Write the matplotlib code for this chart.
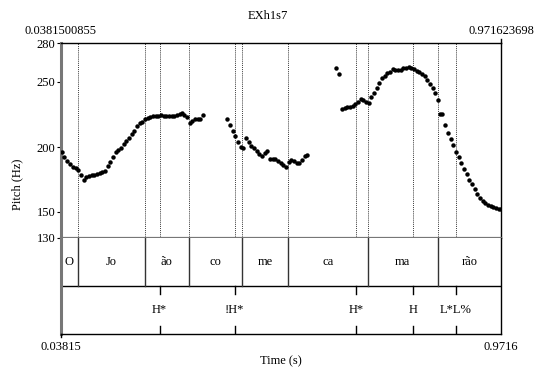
import matplotlib.pyplot as plt
from matplotlib.lines import Line2D

plt.rcParams['font.family'] = ['Liberation Serif', 'DejaVu Serif']
plt.rcParams['font.size'] = 9

title = "EXh1s7"
t_start = 0.0381500855
t_end = 0.971623698
f_min, f_max = 130, 280
f_ticks = [130, 150, 200, 250, 280]

# syllable tier: interval boundaries and labels
syll_bounds = [0.0736, 0.2157, 0.3091, 0.4221, 0.5204, 0.6888, 0.8373]
syllables = ["O", "Jo", "ão", "co", "me", "ca", "ma", "rão"]

# tone tier: point events
tone_times = [0.2475, 0.4066, 0.6640, 0.7856, 0.8755]
tone_labels = ["H*", "!H*", "H*", "H", "L*L%"]

# pitch track (s, Hz)
pitch_t = [
    0.0396, 0.0452, 0.0509, 0.0572, 0.0630, 0.0693, 0.0748, 0.0806, 0.0863, 0.0918,
    0.0975, 0.1033, 0.1088, 0.1145, 0.1202, 0.1258, 0.1315, 0.1372, 0.1427, 0.1485,
    0.1542, 0.1597, 0.1654, 0.1712, 0.1767, 0.1824, 0.1881, 0.1937, 0.1994, 0.2051,
    0.2106, 0.2164, 0.2221, 0.2276, 0.2333, 0.2390, 0.2446, 0.2503, 0.2560, 0.2615,
    0.2673, 0.2730, 0.2785, 0.2842, 0.2900, 0.2955, 0.3000, 0.3054, 0.3112, 0.3167,
    0.3224, 0.3281, 0.3337, 0.3394,
    0.3910, 0.3967, 0.4024, 0.4079, 0.4137, 0.4194, 0.4249, 0.4306, 0.4363, 0.4419,
    0.4476, 0.4533, 0.4589, 0.4646, 0.4703, 0.4758, 0.4816, 0.4873, 0.4928, 0.4985,
    0.5042, 0.5098, 0.5155, 0.5212, 0.5268, 0.5325, 0.5382, 0.5437, 0.5494, 0.5552,
    0.5607,
    0.6216, 0.6279, 0.6343, 0.6400, 0.6456, 0.6513, 0.6570, 0.6625, 0.6682, 0.6740,
    0.6795, 0.6852, 0.6910, 0.6965, 0.7022, 0.7079, 0.7135, 0.7192, 0.7249, 0.7304,
    0.7361, 0.7419, 0.7474, 0.7531, 0.7588, 0.7643, 0.7701, 0.7758, 0.7813, 0.7870,
    0.7928, 0.7983, 0.8040, 0.8097, 0.8153, 0.8210, 0.8267, 0.8323, 0.8380, 0.8418,
    0.8475, 0.8528, 0.8592, 0.8649, 0.8704, 0.8761, 0.8819, 0.8874, 0.8931, 0.8988,
    0.9044, 0.9101, 0.9158, 0.9213, 0.9271, 0.9328, 0.9383, 0.9440, 0.9498, 0.9553,
    0.9610, 0.9667, 0.9712,
]
pitch_hz = [
    196.4, 192.5, 189.5, 186.9, 184.8, 183.6, 182.3, 178.5, 174.6, 176.7,
    177.7, 178.2, 178.7, 179.0, 179.8, 180.8, 181.5, 185.4, 188.7, 192.5,
    195.9, 197.7, 199.5, 202.1, 204.8, 207.2, 209.8, 212.5, 216.2, 218.2,
    219.5, 221.3, 222.5, 223.3, 223.8, 224.1, 224.1, 224.4, 223.8, 223.8,
    224.1, 223.8, 223.8, 224.4, 225.4, 225.8, 224.6, 222.7, 218.2, 220.2,
    221.3, 221.8, 221.3, 224.4,
    221.5, 216.9, 212.5, 208.5, 204.1, 200.2, 199.0, 207.2, 204.1, 201.0,
    199.0, 197.2, 194.6, 193.3, 195.2, 197.2, 190.5, 191.0, 191.0, 189.5,
    187.5, 185.9, 184.4, 188.2, 190.0, 189.0, 187.9, 187.9, 190.0, 193.1,
    193.8,
    260.5, 255.9, 229.0, 229.8, 230.5, 231.0, 231.8, 232.8, 234.8, 236.7,
    235.9, 234.4, 234.1, 238.5, 241.5, 245.2, 249.0, 252.8, 254.8, 256.7,
    257.5, 259.8, 259.2, 259.0, 259.2, 260.5, 261.0, 261.5, 261.0, 260.0,
    258.7, 257.5, 256.2, 254.4, 251.8, 248.7, 245.6, 241.3, 236.4, 225.4,
    225.4, 217.2, 211.0, 205.9, 201.8, 196.2, 192.1, 187.5, 183.1, 179.2,
    174.6, 171.5, 167.9, 163.8, 161.0, 158.7, 157.2, 155.4, 154.6, 154.1,
    153.3, 152.5, 152.2,
]

W, H = 535, 369


def fx(px):
    return px / W


def fy(py):
    return 1 - py / H


fig = plt.figure(figsize=(W / 100, H / 100), dpi=100)

# pitch panel
ax = fig.add_axes([fx(61), fy(238), 440 / W, 195 / H])
ax.plot(pitch_t, pitch_hz, "o", ms=3.2, color="black", mec="none", zorder=3)
for t in syll_bounds + tone_times:
    ax.axvline(t, color="black", lw=0.6, ls=(0, (1, 1.3)), zorder=1)
ax.set_xlim(t_start, t_end)
ax.set_ylim(f_min, f_max)
ax.set_xticks([])
ax.set_yticks(f_ticks)
ax.tick_params(axis="y", length=3, width=0.8, pad=1, labelsize=9)
ax.spines["left"].set_color("#777777")
ax.spines["left"].set_linewidth(2.2)
ax.spines["bottom"].set_color("#777777")
ax.spines["bottom"].set_linewidth(1.6)
ax.spines["top"].set_linewidth(1.0)
ax.spines["right"].set_linewidth(1.0)

# annotation tiers
ax2 = fig.add_axes([fx(61), fy(334), 440 / W, 96 / H])
ax2.set_xlim(t_start, t_end)
ax2.set_ylim(0, 2)
ax2.set_xticks([])
ax2.set_yticks([])
ax2.axhline(1, color="black", lw=1.0)
for b in syll_bounds:
    ax2.plot([b, b], [1, 2], color="#333333", lw=1.0)
edges = [t_start] + syll_bounds + [t_end]
for lab, a, b in zip(syllables, edges[:-1], edges[1:]):
    ax2.text((a + b) / 2, 1.5, lab, ha="center", va="center", fontsize=9)
for t, lab in zip(tone_times, tone_labels):
    ax2.plot([t, t], [1, 0.83], color="black", lw=1.0)
    ax2.plot([t, t], [0, 0.17], color="black", lw=1.0)
    ax2.text(t, 0.5, lab, ha="center", va="center", fontsize=9)
ax2.spines["top"].set_visible(False)
ax2.spines["left"].set_color("#777777")
ax2.spines["left"].set_linewidth(2.2)
ax2.spines["bottom"].set_linewidth(1.0)
ax2.spines["right"].set_linewidth(1.0)

# time range marks at the corners
fig.add_artist(Line2D([fx(501), fx(501)], [fy(43), fy(39)], color="black", lw=1.0))
fig.add_artist(Line2D([fx(61), fx(61)], [fy(334), fy(337)], color="black", lw=1.0))

fig.text(fx(268), fy(16), title, ha="center", va="center", fontsize=9)
fig.text(fx(61), fy(31), f"{t_start}", ha="center", va="center", fontsize=9)
fig.text(fx(501), fy(31), f"{t_end}", ha="center", va="center", fontsize=9)
fig.text(fx(61), fy(347), f"{t_start:.5f}", ha="center", va="center", fontsize=9)
fig.text(fx(501), fy(347), f"{t_end:.4f}", ha="center", va="center", fontsize=9)
fig.text(fx(281), fy(361), "Time (s)", ha="center", va="center", fontsize=9)
fig.text(fx(17), fy(184), "Pitch (Hz)", ha="center", va="center", rotation=90, fontsize=9)

fig.savefig("out.png", dpi=100)
